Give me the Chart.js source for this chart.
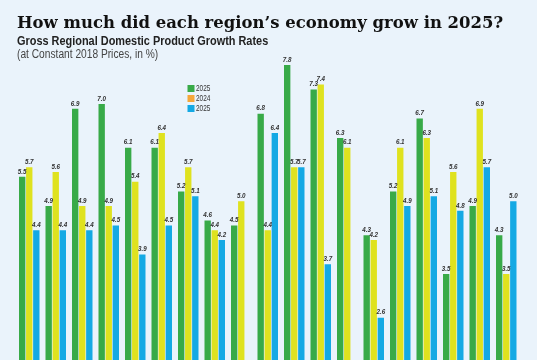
<!DOCTYPE html>
<html>
<head>
<meta charset="utf-8">
<script src="https://cdn.jsdelivr.net/npm/chart.js@4"></script>
<style>
  html, body { margin:0; padding:0; background:#eaf3fb; }
  #wrap { position:relative; width:537px; height:360px; overflow:hidden; background:#eaf3fb; }
  #c { position:absolute; left:0; top:0; }
  .t { position:absolute; left:17px; white-space:nowrap; transform-origin:0 0; }
  #title { top:13.5px; font:bold 16.8px/17px 'DejaVu Serif', serif; color:#111; transform:scaleX(0.982); }
  #sub { top:34px; font:bold 13px/13px 'Liberation Sans', Arial, sans-serif; color:#222; transform:scaleX(0.84); }
  #sub2 { top:47.8px; font:12px/12px 'Liberation Sans', Arial, sans-serif; color:#444; transform:scaleX(0.85); }
</style>
</head>
<body>
<div id="wrap">
  <canvas id="c" width="537" height="360"></canvas>
  <div class="t" id="title">How much did each region’s economy grow in 2025?</div>
  <div class="t" id="sub">Gross Regional Domestic Product Growth Rates</div>
  <div class="t" id="sub2">(at Constant 2018 Prices, in %)</div>
</div>
<script>
// Regions (unnamed in the reference image)
const categories = ["R1","R2","R3","R4","R5","R6","R7","R8","R9","R10","R11","R12","R13","R14","R15","R16","R17","R18","R19"];
const seriesLabels = ["2025", "2024", "2025"];
const seriesA = [5.5, 4.9, 6.9, 7.0, 6.1, 6.1, 5.2, 4.6, 4.5, 6.8, 7.8, 7.3, 6.3, 4.3, 5.2, 6.7, 3.5, 4.9, 4.3];
const seriesB = [5.7, 5.6, 4.9, 4.9, 5.4, 6.4, 5.7, 4.4, 5.0, 4.4, 5.7, 7.4, 6.1, 4.2, 6.1, 6.3, 5.6, 6.9, 3.5];
const seriesC = [4.4, 4.4, 4.4, 4.5, 3.9, 4.5, 5.1, 4.2, null, 6.4, 5.7, 3.7, null, 2.6, 4.9, 5.1, 4.8, 5.7, 5.0];

const barColors = ["#38aa48", "#dfe21f", "#14a9e4"];
const legendColors = ["#38aa48", "#f5a73a", "#14a9e4"];

const labelPlugin = {
  id: 'valueLabels',
  afterDatasetsDraw(chart) {
    const ctx = chart.ctx;
    chart.data.datasets.forEach((ds, i) => {
      const meta = chart.getDatasetMeta(i);
      meta.data.forEach((el, j) => {
        const v = ds.data[j];
        if (v === null || v === undefined) return;
        ctx.save();
        ctx.font = "italic bold 8px 'Liberation Sans', Arial, sans-serif";
        ctx.fillStyle = "#333";
        ctx.textAlign = "center";
        ctx.textBaseline = "bottom";
        ctx.translate(el.x, el.y - 1.5);
        ctx.scale(0.78, 1);
        ctx.fillText(v.toFixed(1), 0, 0);
        ctx.restore();
      });
    });
  }
};

const legendPlugin = {
  id: 'fixedLegend',
  afterDraw(chart) {
    const ctx = chart.ctx;
    chart.data.datasets.forEach((ds, i) => {
      const y = 85 + i * 10;
      ctx.save();
      ctx.fillStyle = ds.legendColor;
      ctx.fillRect(187.5, y, 7, 7);
      ctx.fillStyle = "#333";
      ctx.font = "9px 'Liberation Sans', Arial, sans-serif";
      ctx.textBaseline = "middle";
      ctx.textAlign = "left";
      ctx.translate(196, y + 3.8);
      ctx.scale(0.72, 1);
      ctx.fillText(ds.label, 0, 0);
      ctx.restore();
    });
  }
};

const datasets = [seriesA, seriesB, seriesC].map((d, i) => ({
  label: seriesLabels[i],
  data: d,
  backgroundColor: barColors[i],
  legendColor: legendColors[i],
  borderWidth: 0,
  categoryPercentage: 0.80,
  barPercentage: 0.9
}));

new Chart(document.getElementById('c'), {
  type: 'bar',
  data: { labels: categories, datasets },
  options: {
    responsive: false,
    animation: false,
    layout: { padding: { left: 16, right: 17.5, top: 0, bottom: 0 } },
    plugins: { legend: { display: false }, tooltip: { enabled: false }, title: { display: false } },
    scales: {
      x: { display: false, grid: { display: false } },
      y: { display: false, min: 1.73, max: 9.14, grid: { display: false } }
    }
  },
  plugins: [labelPlugin, legendPlugin]
});
</script>
</body>
</html>
